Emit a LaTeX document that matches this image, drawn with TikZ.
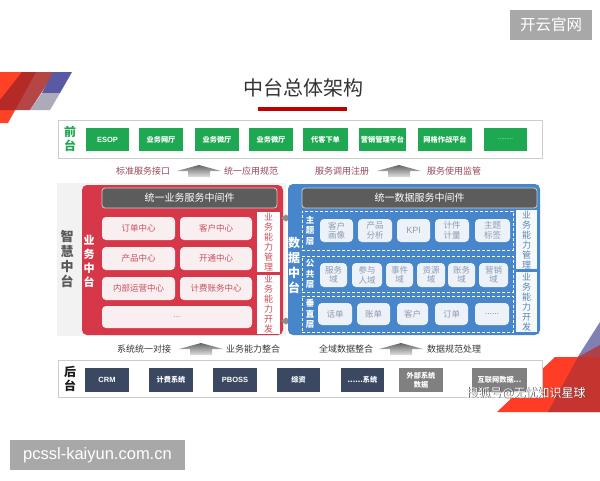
\documentclass[tikz,border=0pt]{standalone}
\usepackage{fontspec}
\setmainfont{Noto Sans CJK SC}
\newfontfamily\latinf{Liberation Sans}
\definecolor{cgreen}{RGB}{30,168,82}
\definecolor{cred}{RGB}{214,56,74}
\definecolor{cpink}{RGB}{249,238,240}
\definecolor{cpinktxt}{RGB}{200,80,94}
\definecolor{chdr}{RGB}{92,92,92}
\definecolor{cblue}{RGB}{72,134,204}
\definecolor{cbcell}{RGB}{237,242,248}
\definecolor{cbtxt}{RGB}{140,155,178}
\definecolor{cnavy}{RGB}{58,72,98}
\definecolor{cgbtn}{RGB}{128,128,128}
\definecolor{cmaroon}{RGB}{150,72,88}
\definecolor{cborder}{RGB}{200,205,205}
\definecolor{cwm}{RGB}{168,168,168}
\definecolor{cbg}{RGB}{242,242,242}
\newcommand\mybox[7]{\node[#1, minimum width={(#5-#3)*1pt}, minimum height={(#6-#4)*1pt}] (#2) at ({(#3+#5)/2},{(#4+#6)/2}) {#7};}
\newcommand\grayarrow[2]{\shade[top color=black!60, bottom color=black!12] (#1-22,#2) -- (#1,#2-6) -- (#1+22,#2) -- (#1+11,#2) -- (#1+11,#2+6) -- (#1-11,#2+6) -- (#1-11,#2) -- cycle;}
\tikzset{
  gbtn/.style={fill=cgreen, text=white, inner sep=0pt, font=\fontsize{7.2}{8}\selectfont\bfseries},
  nbtn/.style={fill=cnavy, text=white, inner sep=0pt, align=center, font=\fontsize{7.2}{8.5}\selectfont\bfseries},
  gybtn/.style={fill=cgbtn, text=white, inner sep=0pt, align=center, font=\fontsize{7.2}{8.5}\selectfont\bfseries},
  lay/.style={draw=cborder, fill=white, line width=0.8pt, inner sep=0pt},
  pcell/.style={fill=cpink, rounded corners=4pt, text=cpinktxt, inner sep=0pt, font=\fontsize{8.5}{9.5}\selectfont},
  bcell/.style={fill=cbcell, rounded corners=4pt, text=cbtxt, inner sep=0pt, align=center, font=\fontsize{8.5}{9.5}\selectfont},
  hdr/.style={fill=chdr, draw=white!80!black, line width=0.8pt, rounded corners=3pt, text=white, inner sep=0pt, font=\fontsize{10}{11}\selectfont},
  rside/.style={fill=white, text=cpinktxt, inner sep=0pt, align=center, font=\fontsize{9}{10}\selectfont},
  bside/.style={fill=white!95!cblue, text=cblue!70!gray, inner sep=0pt, align=center, font=\fontsize{9}{10}\selectfont},
  drow/.style={draw=white, dash pattern=on 3pt off 2pt, line width=0.9pt, inner sep=0pt},
  vlab/.style={text=white, align=center, inner sep=0pt, font=\fontsize{8.5}{10.5}\selectfont\bfseries},
  arrtxt/.style={text=cmaroon, inner sep=0pt, font=\fontsize{9}{10}\selectfont},
  arrtxtb/.style={text=black!78, inner sep=0pt, font=\fontsize{9}{10}\selectfont},
  wmbox/.style={fill=cwm, text=white, inner sep=0pt}
}
\begin{document}
\begin{tikzpicture}[x=1pt,y=-1pt]
\useasboundingbox (0,0) rectangle (600,480);
\fill[white] (0,0) rectangle (600,480);
% corner decorations
\fill[red!75!orange!85] (0,72) -- (36,72) -- (8,123) -- (0,123) -- cycle;
\fill[red!60!black!85, opacity=0.85] (22,72) -- (55,72) -- (30,110) -- (0,110) -- (0,100) -- cycle;
\fill[blue!30!gray] (53,72) -- (72,72) -- (60,93) -- (42,93) -- cycle;
\fill[blue!10!gray!60] (42,93) -- (60,93) -- (50,110) -- (30,110) -- cycle;
\fill[blue!25!gray!80] (600,322) -- (600,366) -- (572,366) -- cycle;
\fill[red!80!orange!85] (555,357) -- (600,357) -- (600,412) -- (497,412) -- cycle;
\fill[red!65!black!80, opacity=0.8] (578,357) -- (600,345) -- (600,412) -- (548,412) -- cycle;
% watermarks
\mybox{wmbox, font=\fontsize{15.5}{16}\selectfont}{wmtop}{510}{10}{592}{40}{开云官网}
\mybox{wmbox, font=\latinf\fontsize{16.5}{17}\selectfont}{wmbot}{10}{440}{185}{470}{pcssl-kaiyun.com.cn}
% title
\node[text=black!80, inner sep=0pt, font=\fontsize{20}{22}\selectfont] (title) at (303,88) {中台总体架构};
\fill[red!75!black] (258,107) rectangle (347,111);
% front layer
\mybox{lay}{front}{58}{120}{542}{158}{}
\node[text=cgreen, align=center, inner sep=0pt, font=\fontsize{12}{14.5}\selectfont\bfseries] (qt) at (70,139) {前\\台};
\mybox{gbtn, font=\latinf\fontsize{7.5}{8}\selectfont\bfseries}{esop}{86}{128}{129}{151}{ESOP}
\mybox{gbtn}{wt}{139}{128}{183}{151}{业务网厅}
\mybox{gbtn}{wt2}{195}{128}{239}{151}{业务微厅}
\mybox{gbtn}{wt3}{249}{128}{293}{151}{业务微厅}
\mybox{gbtn}{dk}{303}{128}{348}{151}{代客下单}
\mybox{gbtn}{yx}{359}{128}{406}{151}{营销管理平台}
\mybox{gbtn}{wg}{418}{128}{472}{151}{网格作战平台}
\mybox{gbtn, font=\fontsize{6}{7}\selectfont}{more}{484}{128}{527}{151}{.........}
% arrow row 1
\node[arrtxt] (a1) at (143,171) {标准服务接口};
\grayarrow{199}{171}
\node[arrtxt] (a2) at (251,171) {统一应用规范};
\node[arrtxt] (a3) at (342,171) {服务调用注册};
\grayarrow{399}{171}
\node[arrtxt] (a4) at (454,171) {服务使用监管};
% middle gray background
\fill[cbg] (57,183) rectangle (286,336);
\node[text=black!65, align=center, inner sep=0pt, font=\fontsize{13}{15}\selectfont\bfseries] (zh) at (67,259) {智\\慧\\中\\台};
% red panel
\fill[cred, rounded corners=5pt] (82,185) rectangle (283,335);
\node[vlab, font=\fontsize{11}{14}\selectfont\bfseries] (yw) at (89,261) {业\\务\\中\\台};
\mybox{hdr}{rhdr}{102}{188}{277}{208}{统一业务服务中间件}
\mybox{pcell}{c1}{102}{217}{175}{240}{订单中心}
\mybox{pcell}{c2}{180}{217}{252}{240}{客户中心}
\mybox{pcell}{c3}{102}{247}{175}{270}{产品中心}
\mybox{pcell}{c4}{180}{247}{252}{270}{开通中心}
\mybox{pcell}{c5}{102}{277}{175}{300}{内部运营中心}
\mybox{pcell}{c6}{180}{277}{252}{300}{计费账务中心}
\mybox{pcell, text=cpinktxt!60}{c7}{102}{306}{252}{328}{...}
\mybox{rside}{rs1}{257}{212}{280}{272}{业\\务\\能\\力\\管\\理}
\mybox{rside}{rs2}{257}{275}{280}{334}{业\\务\\能\\力\\开\\发}
% connectors between panels
\fill[black!45] (281,218) -- (286,214.5) -- (291,218) -- (286,221.5) -- cycle;
\fill[black!45] (281,321) -- (286,317.5) -- (291,321) -- (286,324.5) -- cycle;
% blue panel
\fill[cblue, rounded corners=5pt] (288,184) rectangle (540,335);
\node[vlab, font=\fontsize{12}{15}\selectfont\bfseries] (sj) at (294,265) {数\\据\\中\\台};
\mybox{hdr}{bhdr}{302}{188}{537}{208}{统一数据服务中间件}
\mybox{drow}{r1}{302}{211}{513}{250}{}
\mybox{drow}{r2}{302}{256}{513}{292}{}
\mybox{drow}{r3}{302}{296}{513}{332}{}
\node[vlab] (l1) at (310,230.5) {主\\题\\层};
\node[vlab] (l2) at (310,274) {公\\共\\层};
\node[vlab] (l3) at (310,314) {垂\\直\\层};
\mybox{bcell}{d11}{320}{219}{353}{242}{客户\\画像}
\mybox{bcell}{d12}{358}{219}{392}{242}{产品\\分析}
\mybox{bcell, font=\latinf\fontsize{9}{10}\selectfont}{d13}{397}{219}{430}{242}{KPI}
\mybox{bcell}{d14}{435}{219}{469}{242}{计件\\计量}
\mybox{bcell}{d15}{475}{219}{510}{242}{主题\\标签}
\mybox{bcell}{d21}{320}{263}{347}{287}{服务\\域}
\mybox{bcell}{d22}{352}{263}{382}{287}{参与\\人域}
\mybox{bcell}{d23}{386}{263}{413}{287}{事件\\域}
\mybox{bcell}{d24}{417}{263}{445}{287}{资源\\域}
\mybox{bcell}{d25}{448}{263}{475}{287}{账务\\域}
\mybox{bcell}{d26}{479}{263}{508}{287}{营销\\域}
\mybox{bcell}{d31}{318}{303}{352}{325}{话单}
\mybox{bcell}{d32}{357}{303}{390}{325}{账单}
\mybox{bcell}{d33}{397}{303}{428}{325}{客户}
\mybox{bcell}{d34}{435}{303}{468}{325}{订单}
\mybox{bcell}{d35}{475}{303}{509}{325}{......}
\mybox{bside}{bs1}{516}{210}{537}{269}{业\\务\\能\\力\\管\\理}
\mybox{bside}{bs2}{516}{272}{537}{332}{业\\务\\能\\力\\开\\发}
% arrow row 2
\node[arrtxtb] (b1) at (144,349) {系统统一对接};
\grayarrow{201}{349}
\node[arrtxtb] (b2) at (253,349) {业务能力整合};
\node[arrtxtb] (b3) at (346,349) {全域数据整合};
\grayarrow{401}{349}
\node[arrtxtb] (b4) at (454,349) {数据规范处理};
% back layer
\mybox{lay}{back}{58}{360}{542}{397}{}
\node[text=black!90, align=center, inner sep=0pt, font=\fontsize{12}{14.5}\selectfont\bfseries] (ht) at (70,379) {后\\台};
\mybox{nbtn, font=\latinf\fontsize{7.5}{8}\selectfont\bfseries}{crm}{85}{368}{129}{392}{CRM}
\mybox{nbtn}{jf}{149}{368}{193}{392}{计费系统}
\mybox{nbtn, font=\latinf\fontsize{7.5}{8}\selectfont\bfseries}{pboss}{213}{368}{257}{392}{PBOSS}
\mybox{nbtn}{zz}{277}{368}{320}{392}{综资}
\mybox{nbtn}{xt}{341}{368}{384}{392}{......系统}
\mybox{gybtn}{wb}{399}{368}{443}{392}{外部系统\\数据}
\mybox{gybtn}{hl}{472}{368}{527}{392}{互联网数据...}
% watermark bottom right
\node[text=black!70, inner sep=0pt, font=\fontsize{12}{13}\selectfont] (wmsh) at (526.8,393.8) {搜狐号@无忧知识星球};
\node[text=white, inner sep=0pt, font=\fontsize{12}{13}\selectfont] (wm) at (526,393) {搜狐号@无忧知识星球};
\end{tikzpicture}
\end{document}
